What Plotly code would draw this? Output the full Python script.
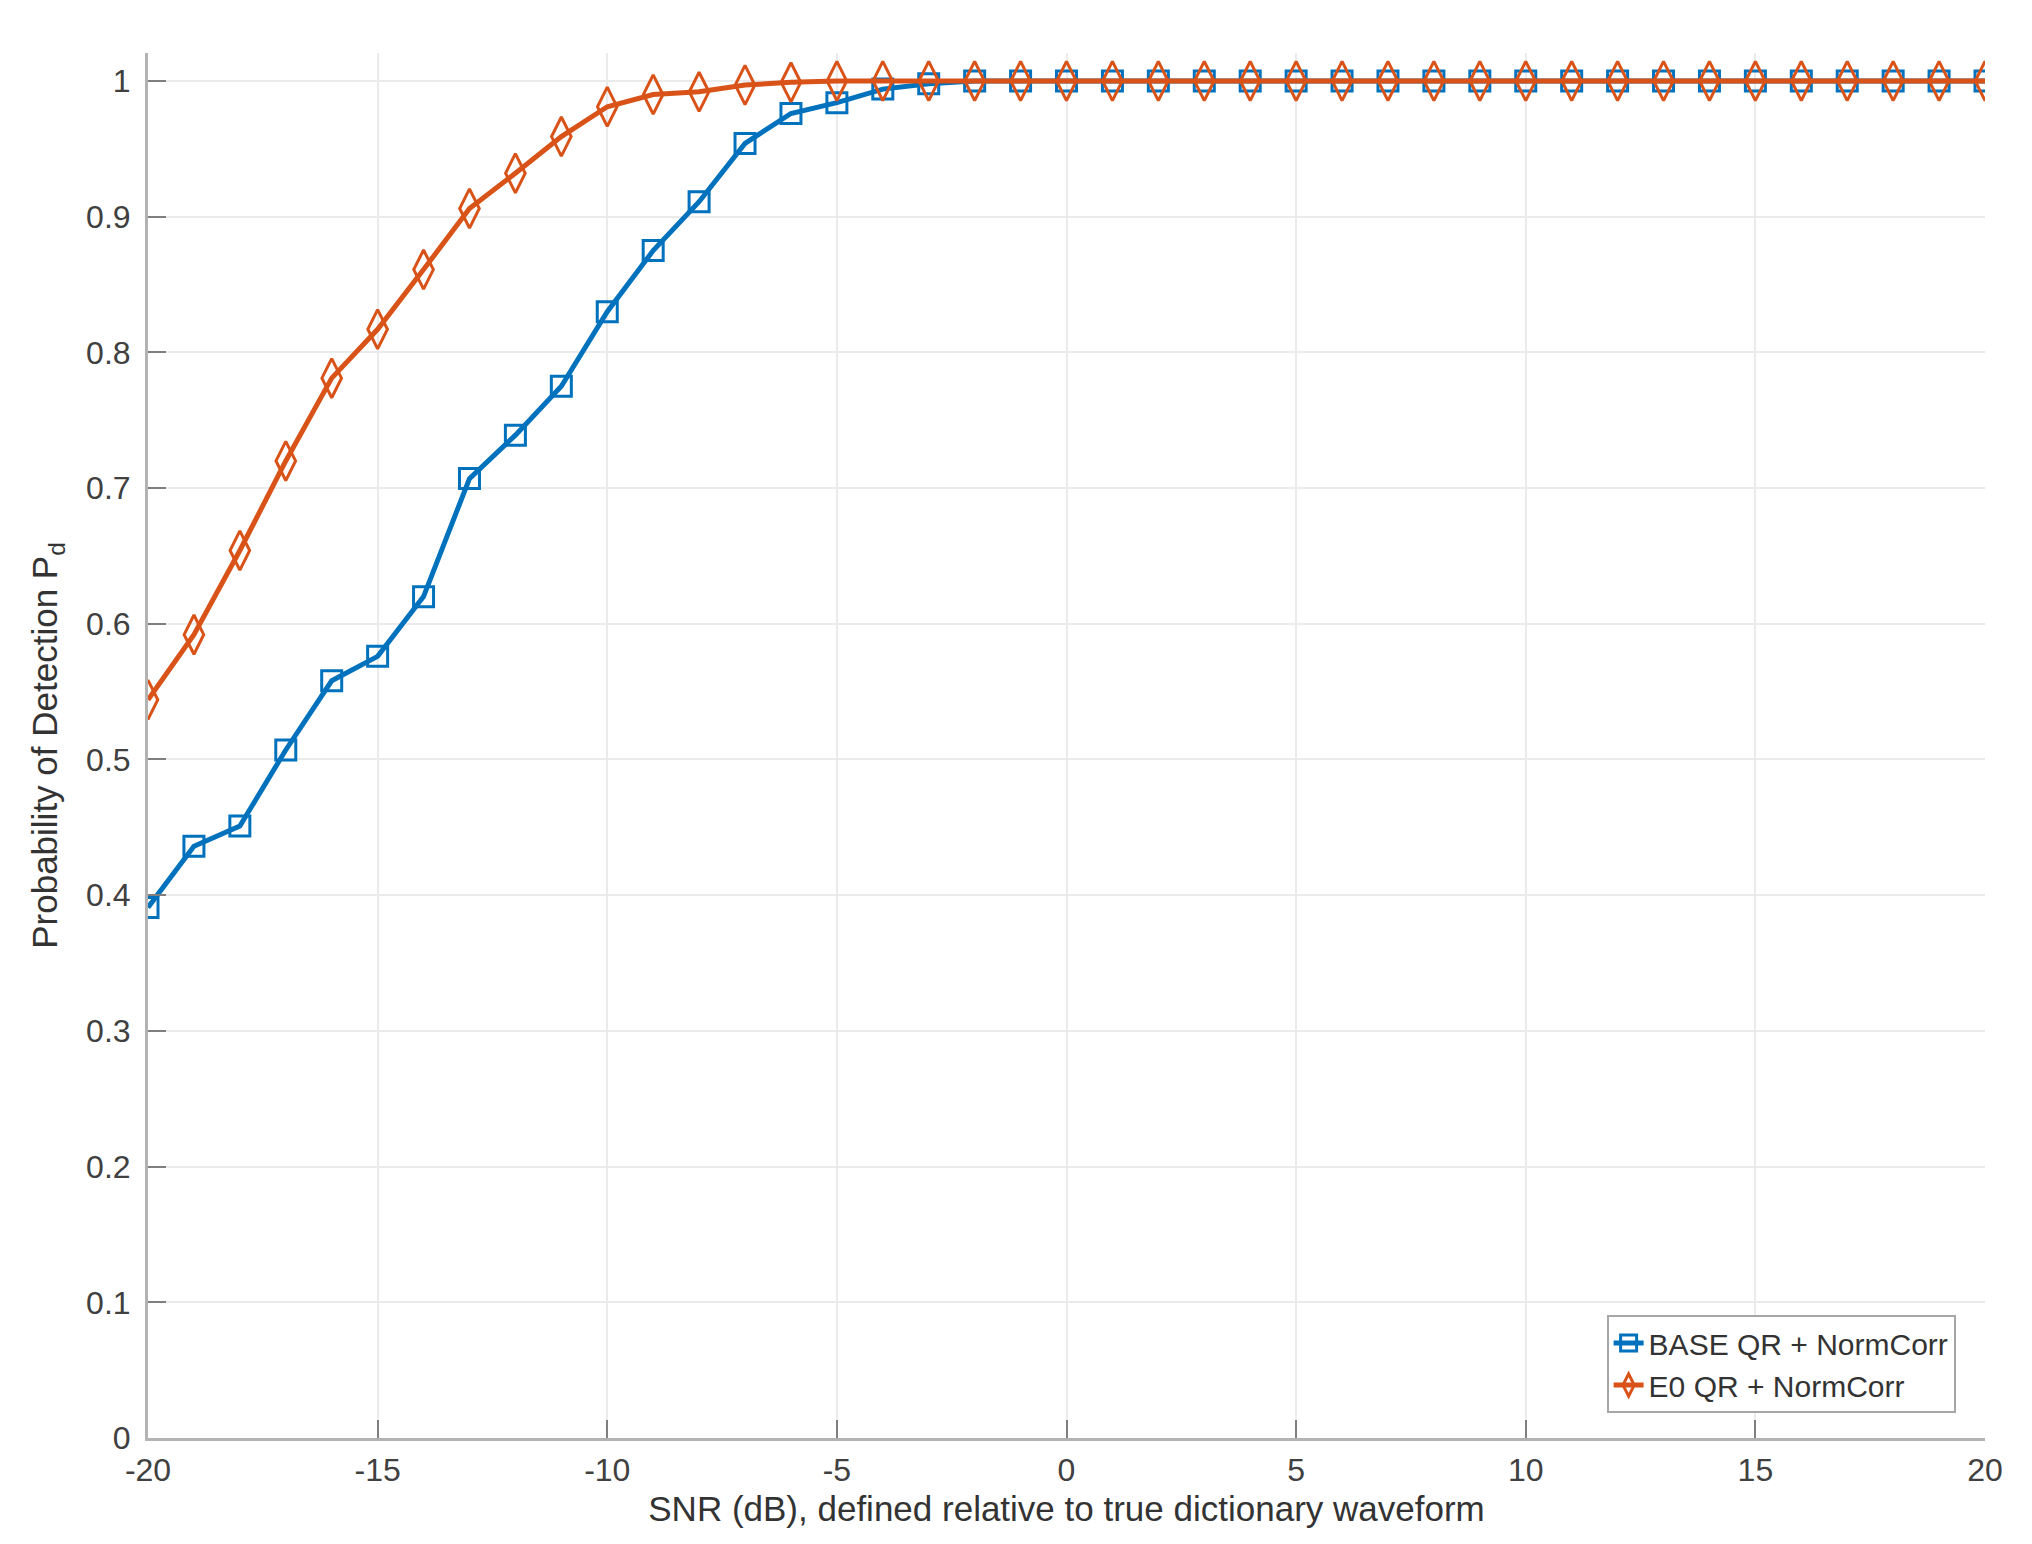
import plotly.graph_objects as go

# SNR sweep (dB)
snr_db = list(range(-20, 21))

# probability of detection
pd_base = [0.391, 0.436, 0.451, 0.507, 0.558, 0.576, 0.620, 0.707, 0.739, 0.775,
           0.830, 0.875, 0.911, 0.954, 0.976, 0.984, 0.994, 0.998] + [1.0] * 23
pd_e0 = [0.544, 0.592, 0.654, 0.720, 0.781, 0.817, 0.861, 0.906, 0.932, 0.959,
         0.981, 0.990, 0.992, 0.997, 0.999] + [1.0] * 26

names = ["BASE QR + NormCorr", "E0 QR + NormCorr"]
x_ticks = [-20, -15, -10, -5, 0, 5, 10, 15, 20]
x_tick_text = ["-20", "-15", "-10", "-5", "0", "5", "10", "15", "20"]
y_ticks = [0, 0.1, 0.2, 0.3, 0.4, 0.5, 0.6, 0.7, 0.8, 0.9, 1]
y_tick_text = ["0", "0.1", "0.2", "0.3", "0.4", "0.5", "0.6", "0.7", "0.8", "0.9", "1"]

blue = "#0072BD"
orange = "#D95319"
font_family = "Liberation Sans, Arial, Helvetica, sans-serif"

fig = go.Figure()
fig.add_trace(go.Scatter(
    x=snr_db, y=pd_base, name=names[0], mode="lines+markers",
    line=dict(color=blue, width=5),
    marker=dict(symbol="square-open", size=20, color=blue, line=dict(width=3, color=blue)),
))
fig.add_trace(go.Scatter(
    x=snr_db, y=pd_e0, name=names[1], mode="lines+markers",
    line=dict(color=orange, width=5),
    marker=dict(symbol="diamond-tall-open", size=28, color=orange, line=dict(width=3, color=orange)),
))

tick_font = dict(family=font_family, size=32, color="#404040")
title_font = dict(family=font_family, size=35, color="#333333")

common = dict(
    ticks="inside", ticklen=18, tickwidth=2, tickcolor="#7f7f7f",
    showline=True, linecolor="#b3b3b3", linewidth=3, mirror=False,
    showgrid=True, gridcolor="#ebebeb", gridwidth=2, zeroline=False,
    tickfont=tick_font,
)

fig.update_xaxes(
    range=[-20, 20], tickvals=x_ticks, ticktext=x_tick_text, ticklabelstandoff=2,
    title=dict(text="SNR (dB), defined relative to true dictionary waveform",
               font=title_font, standoff=10),
    **common,
)
fig.update_yaxes(
    range=[0, 1.0206], tickvals=y_ticks, ticktext=y_tick_text, ticklabelstandoff=8,
    title=dict(text="Probability of Detection P<sub>d</sub>", font=title_font, standoff=18),
    **common,
)

fig.update_layout(
    width=2032, height=1544,
    plot_bgcolor="white", paper_bgcolor="white",
    margin=dict(l=140, r=55, t=45, b=114),
    legend=dict(
        x=0.984, y=0.018, xanchor="right", yanchor="bottom",
        bgcolor="white", bordercolor="#a6a6a6", borderwidth=2,
        font=dict(family=font_family, size=30, color="#333333"),
        tracegroupgap=0,
    ),
)

fig.write_html("out.html")
